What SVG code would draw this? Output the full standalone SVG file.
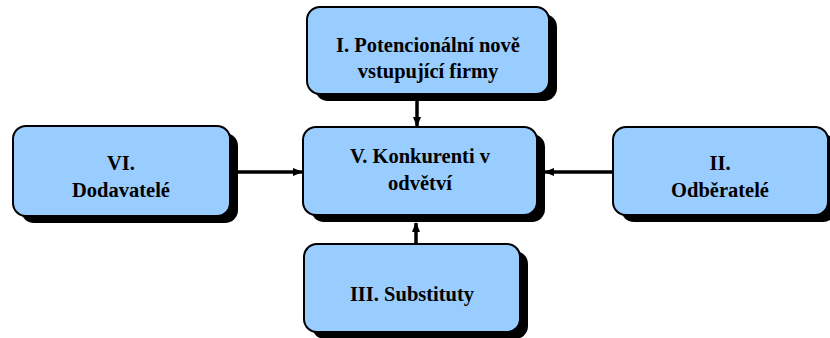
<svg xmlns="http://www.w3.org/2000/svg" width="830" height="338" viewBox="0 0 830 338">
<defs>
<marker id="ah" viewBox="0 0 10 10" refX="9" refY="5" markerWidth="3" markerHeight="3" orient="auto" markerUnits="strokeWidth">
<path d="M0,1 L10,5 L0,9 Z" fill="#000"/>
</marker>
<style>
.sh{fill:#000}
.bx{fill:#99CCFF;stroke:#000;stroke-width:2}
.t{font-family:"Liberation Serif","Times New Roman",serif;font-weight:bold;font-size:20.5px;fill:#000;text-anchor:middle}
.c{stroke:#000;stroke-width:3.5;fill:none;marker-end:url(#ah)}
</style>
</defs>
<rect width="830" height="338" fill="#fff"/>
<g id="connectors">
<line class="c" x1="417" y1="100" x2="417" y2="126"/>
<line class="c" x1="238" y1="172" x2="302" y2="172"/>
<line class="c" x1="613" y1="172" x2="545" y2="172"/>
<line class="c" x1="416" y1="244" x2="416" y2="223"/>
</g>
<g id="n1">
<rect class="sh" x="315" y="14" width="242" height="87" rx="13"/>
<rect class="bx" x="307" y="7" width="242" height="87" rx="13"/>
<text class="t" x="428" y="52">I. Potencionální nově</text>
<text class="t" x="428" y="78">vstupující firmy</text>
</g>
<g id="n6">
<rect class="sh" x="21" y="133" width="217" height="90" rx="13"/>
<rect class="bx" x="13" y="126" width="217" height="90" rx="13"/>
<text class="t" x="121" y="170">VI.</text>
<text class="t" x="121" y="197">Dodavatelé</text>
</g>
<g id="n5">
<rect class="sh" x="311" y="134" width="234" height="88" rx="13"/>
<rect class="bx" x="303" y="127" width="234" height="88" rx="13"/>
<text class="t" x="420" y="163">V. Konkurenti v</text>
<text class="t" x="420" y="190">odvětví</text>
</g>
<g id="n2">
<rect class="sh" x="621" y="134" width="215" height="88" rx="13"/>
<rect class="bx" x="613" y="127" width="215" height="88" rx="13"/>
<text class="t" x="720" y="170">II.</text>
<text class="t" x="720" y="197">Odběratelé</text>
</g>
<g id="n3">
<rect class="sh" x="312" y="251" width="216" height="88" rx="13"/>
<rect class="bx" x="304" y="244" width="216" height="88" rx="13"/>
<text class="t" x="412" y="301">III. Substituty</text>
</g>
</svg>
